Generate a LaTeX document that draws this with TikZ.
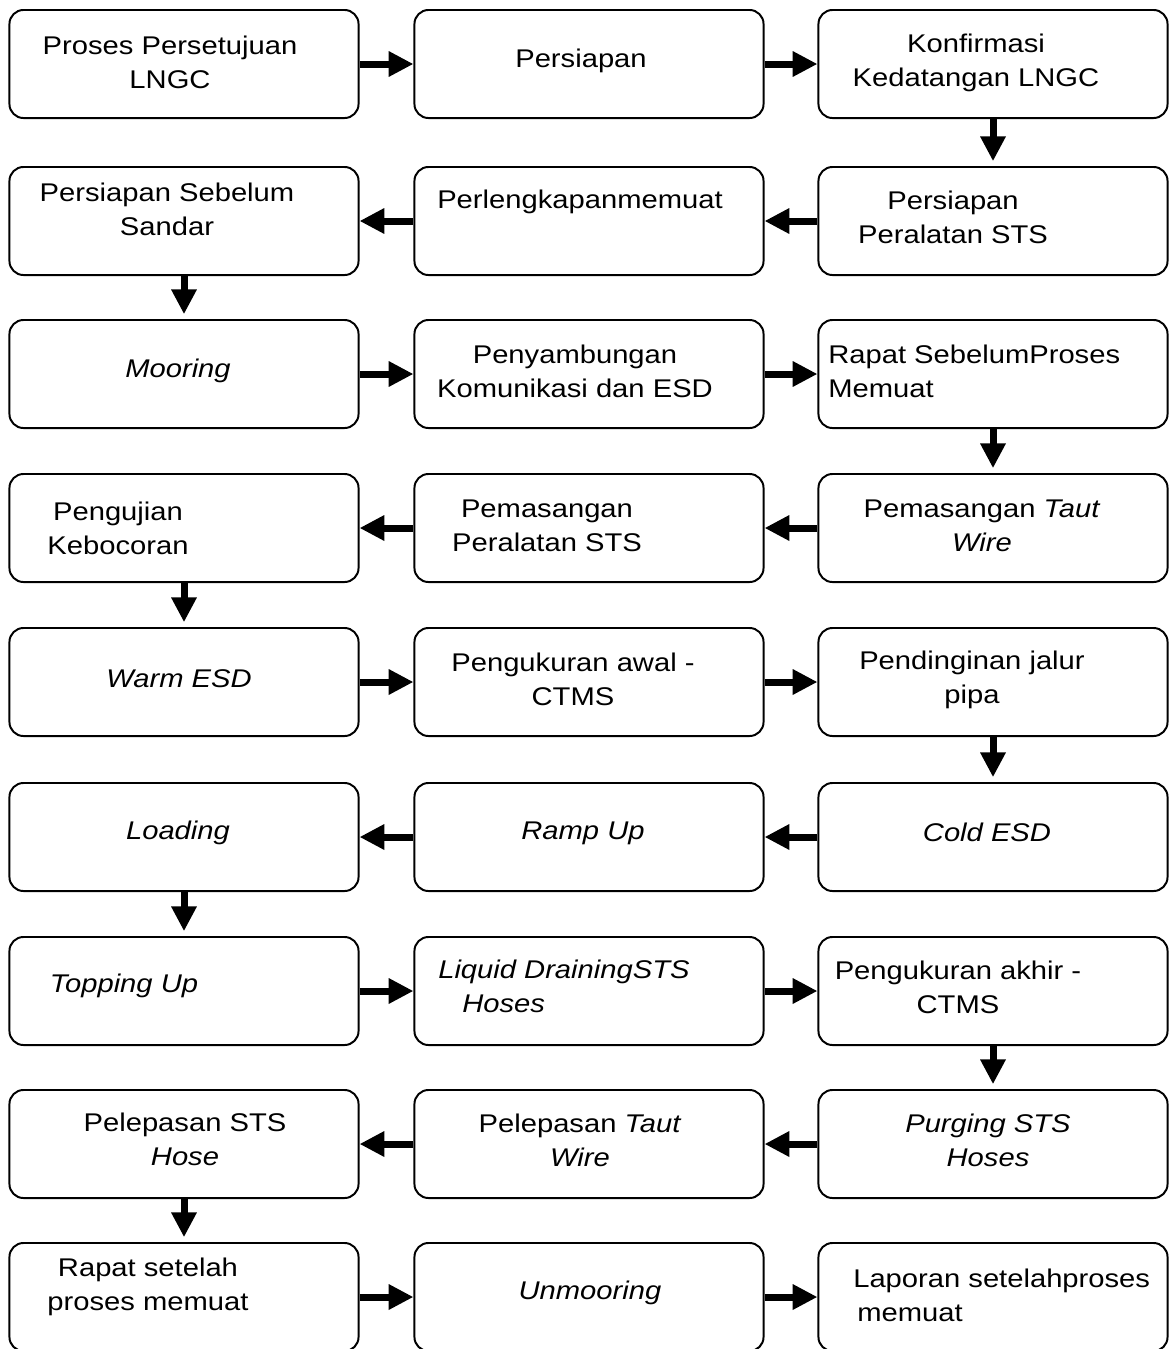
\documentclass[tikz,border=0pt]{standalone}
\usepackage{fontspec}
\setmainfont{Liberation Sans}[FakeStretch=1.14]
\usetikzlibrary{arrows.meta, shapes}

\begin{document}
\begin{tikzpicture}[x=0.025cm, y=-0.025cm]
    \tikzstyle{box} = [shape=rectangle, draw, rounded corners=0.35cm, line width=1.4pt,
      minimum width=8.725cm, minimum height=2.7cm, inner sep=0]
    \tikzstyle{txt} = [inner sep=0, align=center, font=\fontsize{18.2}{24.1}\selectfont]
    \tikzstyle{arr} = [line width=0.175cm, -{Triangle[length=0.62cm, width=0.6cm]}]

    \useasboundingbox (0, 0) rectangle (1171, 1349);

    % boxes, numbered in the order of the flow
    \foreach \n/\x/\y in {1/184/64, 2/589/64, 3/993/64,
                          4/993/221, 5/589/221, 6/184/221,
                          7/184/374, 8/589/374, 9/993/374,
                          10/993/528, 11/589/528, 12/184/528,
                          13/184/682, 14/589/682, 15/993/682,
                          16/993/837, 17/589/837, 18/184/837,
                          19/184/991, 20/589/991, 21/993/991,
                          22/993/1144, 23/589/1144, 24/184/1144,
                          25/184/1297, 26/589/1297, 27/993/1297}
      \node [box] (b\n) at (\x, \y) {};

    \node [txt] (t1) at (170, 62.5) {Proses Persetujuan\\LNGC};
    \node [txt] (t2) at (581, 61) {Persiapan};
    \node [txt] (t3) at (976, 62.5) {Konfirmasi\\Kedatangan LNGC};
    \node [txt] (t4) at (953, 217.5) {Persiapan\\Peralatan STS};
    \node [txt] (t5) at (580, 202) {Perlengkapanmemuat};
    \node [txt] (t6) at (167, 209) {Persiapan Sebelum\\Sandar};
    \node [txt] (t7) at (178, 371) {\textit{Mooring}};
    \node [txt] (t8) at (575, 371) {Penyambungan\\Komunikasi dan ESD};
    \node [txt, anchor=west, align=left] (t9) at (828, 371) {Rapat SebelumProses\\Memuat};
    \node [txt] (t10) at (982, 526) {Pemasangan \textit{Taut}\\\textit{Wire}};
    \node [txt] (t11) at (547, 525.5) {Pemasangan\\Peralatan STS};
    \node [txt] (t12) at (118, 528.5) {Pengujian\\Kebocoran};
    \node [txt] (t13) at (179, 679) {\textit{Warm ESD}};
    \node [txt] (t14) at (573, 679.5) {Pengukuran awal -\\CTMS};
    \node [txt] (t15) at (972, 680) {Pendinginan jalur\\pipa};
    \node [txt] (t16) at (987, 832) {\textit{Cold ESD}};
    \node [txt] (t17) at (583, 833) {\textit{Ramp Up}};
    \node [txt] (t18) at (178, 833) {\textit{Loading}};
    \node [txt] (t19) at (124, 986) {\textit{Topping Up}};
    \node [txt, anchor=west, align=left] (t20) at (438, 986) {\textit{Liquid DrainingSTS}\\\hspace{0.6cm}\textit{Hoses}};
    \node [txt] (t21) at (958, 987) {Pengukuran akhir -\\CTMS};
    \node [txt] (t22) at (988, 1140.5) {\textit{Purging STS}\\\textit{Hoses}};
    \node [txt] (t23) at (580, 1140) {Pelepasan \textit{Taut}\\\textit{Wire}};
    \node [txt] (t24) at (185, 1139) {Pelepasan STS\\\textit{Hose}};
    \node [txt] (t25) at (148, 1287) {Rapat setelah\\proses memuat};
    \node [txt] (t26) at (590, 1293) {\textit{Unmooring}};
    \node [txt, anchor=west, align=left] (t27) at (853, 1295) {Laporan setelahproses\\\hspace{0.1cm}memuat};

    % along the rows
    \foreach \a/\b in {1/2, 2/3, 4/5, 5/6, 7/8, 8/9, 10/11, 11/12, 13/14, 14/15,
                       16/17, 17/18, 19/20, 20/21, 22/23, 23/24, 25/26, 26/27}
      \draw [arr] (b\a) -- (b\b);

    % down to the next row
    \foreach \a/\b in {3/4, 6/7, 9/10, 12/13, 15/16, 18/19, 21/22, 24/25}
      \draw [arr, shorten >=0.12cm] (b\a) -- (b\b);
\end{tikzpicture}
\end{document}
